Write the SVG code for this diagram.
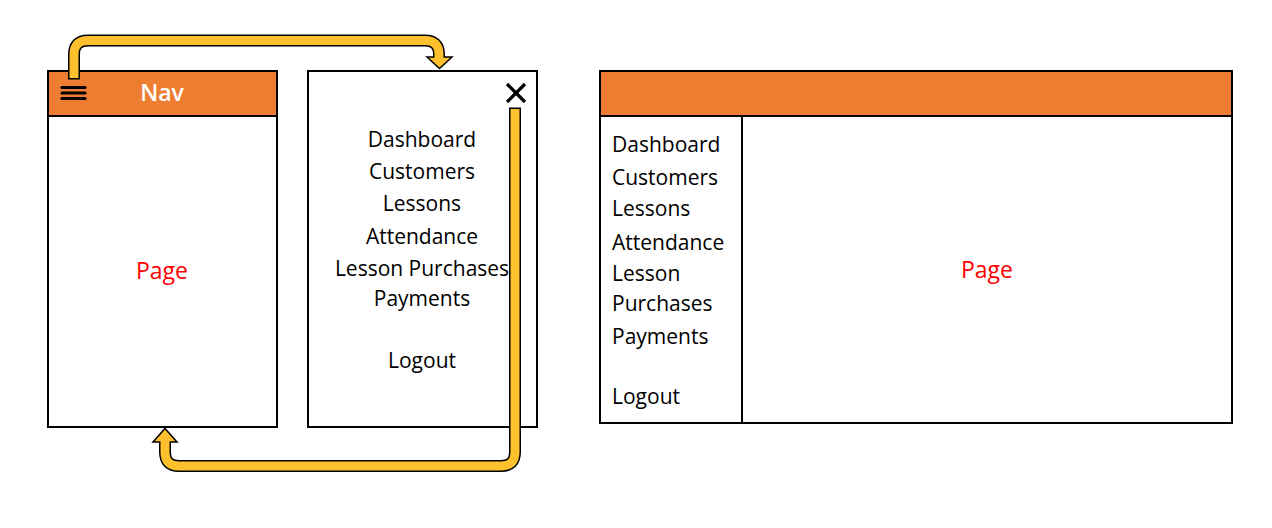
<svg xmlns="http://www.w3.org/2000/svg" width="1272" height="528" viewBox="0 0 1272 528">
<style>
.box{fill:#fff;stroke:#000;stroke-width:2}
.hdr{fill:#ED7D31;stroke:#000;stroke-width:2}
.t{font-family:"Open Sans","Noto Sans",sans-serif;font-size:21px;fill:#000}
.c{text-anchor:middle}
.page{font-family:"Open Sans","Noto Sans",sans-serif;font-size:23px;fill:#FF0000;text-anchor:middle}
.nav{font-family:"Open Sans","Noto Sans",sans-serif;font-size:23px;font-weight:600;fill:#fff;text-anchor:middle}
.out{fill:none;stroke:#000;stroke-width:12}
.in{fill:none;stroke:#FEC02C;stroke-width:9}
.head{fill:#FEC02C;stroke:#000;stroke-width:1.5;stroke-linejoin:miter}
</style>
<g id="mobile-page">
<rect class="box" x="48" y="71" width="229" height="356"/>
<rect class="hdr" x="48" y="71" width="229" height="45"/>
<text class="nav" x="162" y="101">Nav</text>
<g stroke="#000" stroke-width="3.2" stroke-linecap="round">
<line x1="62" y1="87.5" x2="85" y2="87.5"/>
<line x1="62" y1="93" x2="85" y2="93"/>
<line x1="62" y1="98.5" x2="85" y2="98.5"/>
</g>
<text class="page" x="162" y="279">Page</text>
</g>
<g id="mobile-menu">
<rect class="box" x="308" y="71" width="229" height="356"/>
<g stroke="#000" stroke-width="3.2">
<line x1="507" y1="84" x2="525" y2="102"/>
<line x1="525" y1="84" x2="507" y2="102"/>
</g>
<text class="t c" x="422" y="147">Dashboard</text>
<text class="t c" x="422" y="179">Customers</text>
<text class="t c" x="422" y="211">Lessons</text>
<text class="t c" x="422" y="244">Attendance</text>
<text class="t c" x="422" y="276">Lesson Purchases</text>
<text class="t c" x="422" y="306">Payments</text>
<text class="t c" x="422" y="368">Logout</text>
</g>
<g id="desktop-layout">
<rect class="box" x="600" y="71" width="632" height="352"/>
<rect class="hdr" x="600" y="71" width="632" height="45"/>
<line x1="742" y1="116" x2="742" y2="423" stroke="#000" stroke-width="2"/>
<text class="t" x="612" y="152">Dashboard</text>
<text class="t" x="612" y="185">Customers</text>
<text class="t" x="612" y="216">Lessons</text>
<text class="t" x="612" y="250">Attendance</text>
<text class="t" x="612" y="281">Lesson</text>
<text class="t" x="612" y="311">Purchases</text>
<text class="t" x="612" y="344">Payments</text>
<text class="t" x="612" y="404">Logout</text>
<text class="page" x="987" y="278">Page</text>
</g>
<g id="connectors">
<path class="out" d="M74 79.5 V54.5 Q74 40.5 88 40.5 H425 Q439 40.5 439 54.5 V58"/>
<polygon class="head" points="427,57 452,57 439.5,68.5"/>
<path class="in" d="M74 78 V54.5 Q74 40.5 88 40.5 H425 Q439 40.5 439 54.5 V58"/>
<path class="out" d="M515 107.5 V452 Q515 466 501 466 H179 Q165 466 165 452 V441"/>
<polygon class="head" points="153,442 177,442 165,428.5"/>
<path class="in" d="M515 109 V452 Q515 466 501 466 H179 Q165 466 165 452 V441"/>
</g>
</svg>
